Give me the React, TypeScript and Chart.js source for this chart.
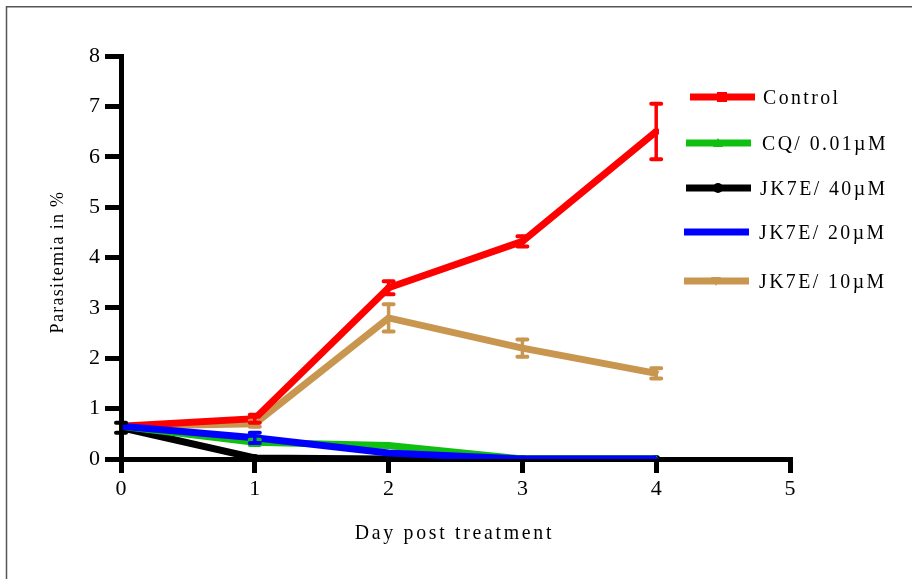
import React, { useEffect, useRef } from "react";
import { Chart, registerables } from "chart.js";

Chart.register(...registerables);

const days = [0, 1, 2, 3, 4];
const xTicks = [0, 1, 2, 3, 4, 5];
const yTicks = [0, 1, 2, 3, 4, 5, 6, 7, 8];

const seriesNames = ["Control", "CQ/ 0.01\u00b5M", "JK7E/ 40\u00b5M", "JK7E/ 20\u00b5M", "JK7E/ 10\u00b5M"];
const controlValues = [0.65, 0.8, 3.4, 4.32, 6.5];
const controlErrors = [0, 0.08, 0.13, 0.1, 0.55];
const cqValues = [0.65, 0.33, 0.27, 0, 0];
const cqErrors = [0, 0.05, 0, 0, 0];
const jk40Values = [0.62, 0.02, 0, 0, 0];
const jk40Errors = [0.1, 0, 0, 0, 0];
const jk20Values = [0.65, 0.42, 0.12, 0, 0];
const jk20Errors = [0, 0.1, 0, 0, 0];
const jk10Values = [0.65, 0.7, 2.8, 2.2, 1.7];
const jk10Errors = [0, 0.06, 0.27, 0.17, 0.1];

const colors = ["#ff0000", "#10c010", "#000000", "#0000ff", "#c8964f"];
const markers = ["rect", "triangle", "circle", "star", "invTriangle"];

const allValues = [controlValues, cqValues, jk40Values, jk20Values, jk10Values];
const allErrors = [controlErrors, cqErrors, jk40Errors, jk20Errors, jk10Errors];
const drawOrder = [4, 2, 0, 1, 3];

const SERIF = "'Liberation Serif', 'Times New Roman', serif";

function drawMarker(ctx: CanvasRenderingContext2D, kind: string, x: number, y: number, color: string) {
  ctx.save();
  ctx.fillStyle = color;
  ctx.beginPath();
  if (kind === "rect") {
    ctx.rect(x - 5, y - 5, 10, 10);
  } else if (kind === "triangle") {
    ctx.moveTo(x, y - 5);
    ctx.lineTo(x + 5, y + 4);
    ctx.lineTo(x - 5, y + 4);
    ctx.closePath();
  } else if (kind === "invTriangle") {
    ctx.moveTo(x, y + 5);
    ctx.lineTo(x + 5, y - 4);
    ctx.lineTo(x - 5, y - 4);
    ctx.closePath();
  } else if (kind === "circle") {
    ctx.arc(x, y, 5, 0, Math.PI * 2);
  } else {
    ctx.arc(x, y, 2.5, 0, Math.PI * 2);
  }
  ctx.fill();
  ctx.restore();
}

function condensedText(ctx: CanvasRenderingContext2D, text: string, x: number, y: number, sx: number) {
  ctx.save();
  ctx.translate(x, y);
  ctx.scale(sx, 1);
  ctx.fillText(text, 0, 0);
  ctx.restore();
}

const framePlugin = {
  id: "frame",
  beforeDraw(chart: any) {
    const ctx = chart.ctx;
    ctx.save();
    ctx.fillStyle = "#ffffff";
    ctx.fillRect(0, 0, chart.width, chart.height);
    ctx.strokeStyle = "#555555";
    ctx.lineWidth = 1.5;
    ctx.beginPath();
    ctx.moveTo(6.5, chart.height);
    ctx.lineTo(6.5, 6.75);
    ctx.lineTo(chart.width, 6.75);
    ctx.stroke();
    ctx.restore();
  },
};

const errorBarPlugin = {
  id: "errorBars",
  afterDatasetsDraw(chart: any) {
    const ctx = chart.ctx;
    const xs = chart.scales.x;
    const ys = chart.scales.y;
    ctx.save();
    ctx.lineCap = "round";
    for (const si of drawOrder) {
      const vals = allValues[si];
      const errs = allErrors[si];
      ctx.strokeStyle = colors[si];
      for (let i = 0; i < days.length; i++) {
        const e = errs[i];
        if (!e) continue;
        const px = xs.getPixelForValue(days[i]);
        const top = ys.getPixelForValue(vals[i] + e);
        const bot = ys.getPixelForValue(vals[i] - e);
        ctx.lineWidth = 3.5;
        ctx.beginPath();
        ctx.moveTo(px, top);
        ctx.lineTo(px, bot);
        ctx.stroke();
        ctx.lineWidth = 4;
        ctx.beginPath();
        ctx.moveTo(px - 5, top);
        ctx.lineTo(px + 5, top);
        ctx.moveTo(px - 5, bot);
        ctx.lineTo(px + 5, bot);
        ctx.stroke();
      }
    }
    ctx.restore();
  },
};

const titlesLegendPlugin = {
  id: "titlesLegend",
  afterDraw(chart: any) {
    const ctx = chart.ctx;
    const area = chart.chartArea;
    ctx.save();
    ctx.fillStyle = "#000000";
    ctx.textAlign = "left";
    ctx.textBaseline = "middle";
    // x axis title
    const sx = 0.9;
    ctx.font = `22px ${SERIF}`;
    (ctx as any).letterSpacing = "3px";
    const xt = "Day post treatment";
    const xw = ctx.measureText(xt).width * sx;
    condensedText(ctx, xt, (area.left + area.right) / 2 - xw / 2 - 1, 533, sx);
    // y axis title
    ctx.save();
    ctx.font = `18px ${SERIF}`;
    (ctx as any).letterSpacing = "1.3px";
    const yt = "Parasitemia in %";
    const yw = ctx.measureText(yt).width;
    ctx.translate(58, 262);
    ctx.rotate(-Math.PI / 2);
    ctx.fillText(yt, -yw / 2, 0);
    ctx.restore();
    // legend
    const legendY = [97, 143, 188, 232, 281];
    const lineX0 = [690, 686, 686, 684, 684];
    const textX = [763, 762, 760, 759, 759];
    ctx.font = `22px ${SERIF}`;
    (ctx as any).letterSpacing = "2.7px";
    for (let i = 0; i < seriesNames.length; i++) {
      ctx.strokeStyle = colors[i];
      ctx.lineWidth = 7;
      ctx.lineCap = "butt";
      ctx.beginPath();
      ctx.moveTo(lineX0[i], legendY[i]);
      ctx.lineTo(lineX0[i] + 65, legendY[i]);
      ctx.stroke();
      drawMarker(ctx, markers[i], lineX0[i] + 32, legendY[i], colors[i]);
      ctx.fillStyle = "#000000";
      condensedText(ctx, seriesNames[i], textX[i], legendY[i] + 1, sx);
    }
    ctx.restore();
  },
};

const pointStyleFor = (m: string) =>
  m === "rect" ? "rect" : m === "triangle" ? "triangle" : m === "circle" ? "circle" : m === "star" ? "circle" : "triangle";

export default function App() {
  const ref = useRef<HTMLCanvasElement | null>(null);

  useEffect(() => {
    document.body.style.margin = "0";
    document.body.style.overflow = "hidden";
    const canvas = ref.current!;
    const datasets = seriesNames.map((name, i) => ({
      label: name,
      data: days.map((d, j) => ({ x: d, y: allValues[i][j] })),
      borderColor: colors[i],
      backgroundColor: colors[i],
      borderWidth: 7,
      pointRadius: markers[i] === "star" ? 2 : 4,
      pointStyle: pointStyleFor(markers[i]),
      pointRotation: markers[i] === "invTriangle" ? 180 : 0,
      pointBorderWidth: 0,
      tension: 0,
      order: drawOrder.length - 1 - drawOrder.indexOf(i),
    }));
    const axisCommon = {
      grid: {
        display: true,
        drawOnChartArea: false,
        drawTicks: true,
        color: "#000000",
        lineWidth: 5,
        tickWidth: 5,
      },
      border: { display: true, color: "#000000", width: 5 },
    };
    const chart = new Chart(canvas, {
      type: "line",
      data: { datasets },
      plugins: [framePlugin, errorBarPlugin, titlesLegendPlugin],
      options: {
        animation: false,
        responsive: false,
        devicePixelRatio: 1,
        layout: { padding: { top: 56, right: 122, left: 0, bottom: 0 } },
        plugins: { legend: { display: false }, tooltip: { enabled: false } },
        scales: {
          x: {
            type: "linear",
            min: xTicks[0],
            max: xTicks[xTicks.length - 1],
            afterFit: (s: any) => {
              s.height = 120;
            },
            afterBuildTicks: (s: any) => {
              s.ticks = xTicks.map((v) => ({ value: v }));
            },
            ticks: {
              color: "#000000",
              font: { family: SERIF, size: 22 },
              padding: 3,
              callback: (v: any) => String(v),
            },
            ...axisCommon,
            grid: { ...axisCommon.grid, tickLength: 14 },
          },
          y: {
            type: "linear",
            min: yTicks[0],
            max: yTicks[yTicks.length - 1],
            afterFit: (s: any) => {
              s.width = 121;
            },
            afterBuildTicks: (s: any) => {
              s.ticks = yTicks.map((v) => ({ value: v }));
            },
            ticks: {
              color: "#000000",
              font: { family: SERIF, size: 22 },
              padding: 5,
              callback: (v: any) => String(v),
            },
            ...axisCommon,
            grid: { ...axisCommon.grid, tickLength: 16 },
          },
        },
      } as any,
    });
    return () => chart.destroy();
  }, []);

  return (
    <div style={{ width: 912, height: 579 }}>
      <canvas ref={ref} width={912} height={579} style={{ display: "block", width: 912, height: 579 }} />
    </div>
  );
}
